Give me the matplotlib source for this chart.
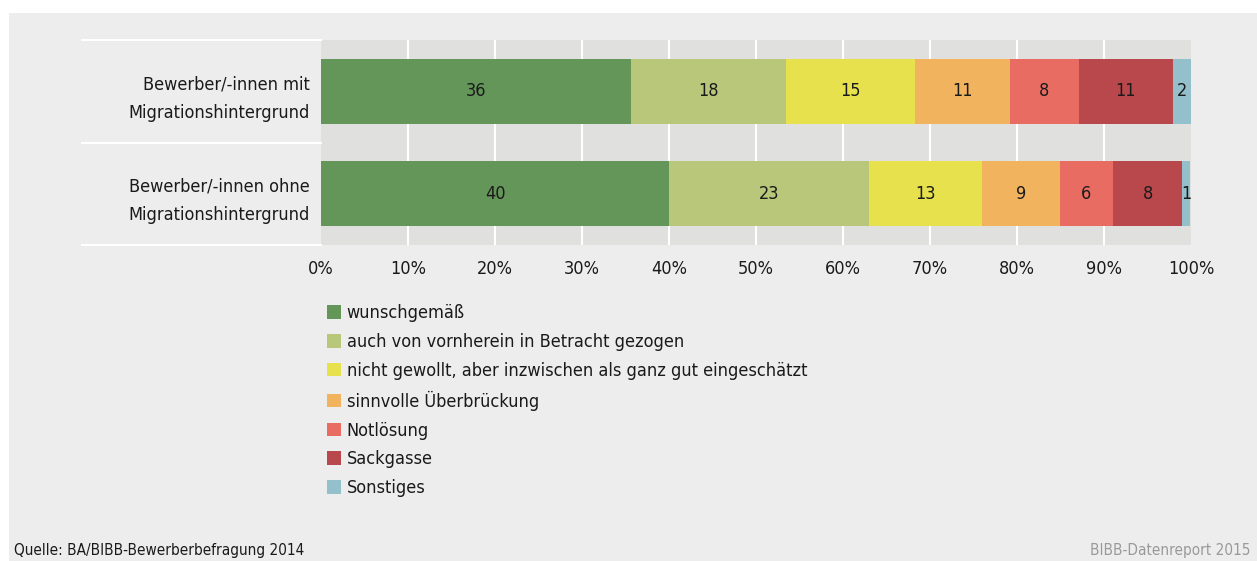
import matplotlib.pyplot as plt
from matplotlib.patches import Rectangle, Patch
from matplotlib.lines import Line2D

plt.rcParams['font.family'] = 'DejaVu Sans'
plt.rcParams['font.stretch'] = 'condensed'

groups = ['Bewerber/-innen mit\nMigrationshintergrund',
          'Bewerber/-innen ohne\nMigrationshintergrund']
categories = ['wunschgemäß', 'auch von vornherein in Betracht gezogen',
              'nicht gewollt, aber inzwischen als ganz gut eingeschätzt',
              'sinnvolle Überbrückung', 'Notlösung', 'Sackgasse', 'Sonstiges']
mit = [35.6, 17.8, 14.9, 10.9, 7.9, 10.8, 2.1]
ohne = [40.0, 23.0, 13.0, 8.9, 6.1, 8.0, 0.9]
mit_labels = [36, 18, 15, 11, 8, 11, 2]
ohne_labels = [40, 23, 13, 9, 6, 8, 1]
colors = ['#649659', '#b8c77a', '#e6e14c', '#f2b35e', '#e86c61', '#b9484c', '#93c0cb']
ticks = [0, 10, 20, 30, 40, 50, 60, 70, 80, 90, 100]

W, H = 1257, 561
fig = plt.figure(figsize=(W / 100, H / 100), dpi=100, facecolor='white')
fig.patches.append(Rectangle((9 / W, 0), 1 - 9 / W, 1 - 13 / H, transform=fig.transFigure,
                             facecolor='#ededed', edgecolor='none', zorder=-5))

ax = fig.add_axes([321 / W, 1 - 245 / H, 870 / W, 205 / H])
ax.set_facecolor('#e0e0df')
for s in ax.spines.values():
    s.set_visible(False)

values = [mit, ohne]
labels = [mit_labels, ohne_labels]
for i in range(len(groups)):
    left = 0
    for j, v in enumerate(values[i]):
        ax.barh(i, v, left=left, height=0.635, color=colors[j], zorder=3)
        ax.text(left + v / 2, i, str(labels[i][j]), ha='center', va='center',
                fontsize=13, color='#1a1a1a', zorder=4)
        left += v

ax.set_xlim(0, 100)
ax.set_ylim(1.5, -0.5)
ax.set_xticks(ticks)
ax.set_xticklabels([f'{t}%' for t in ticks], fontsize=13, color='#1a1a1a')
ax.set_yticks(range(len(groups)))
ax.set_yticklabels(groups, fontsize=13, color='#1a1a1a', linespacing=1.74)
ax.tick_params(axis='y', length=0, pad=8)
ax.tick_params(axis='x', length=0, pad=11)
# inner gridlines only, no line at 0% and 100%
for t in ticks[1:-1]:
    ax.axvline(t, color='white', linewidth=1.5, zorder=1)

for y in [-0.5, 0.5, 1.5]:
    ax.add_line(Line2D([-239 / 870, 0], [y, y], transform=ax.get_yaxis_transform(),
                       color='white', linewidth=1.5, clip_on=False))

handles = [Patch(facecolor=c, edgecolor='none') for c in colors]
fig.legend(handles, categories, loc='upper left', bbox_to_anchor=(311 / W, 1 - 288 / H),
           frameon=False, fontsize=13, handlelength=0.78, handleheight=0.78,
           labelspacing=0.6, handletextpad=0.3, labelcolor='#1a1a1a')

fig.text(14 / W, 1 - 550 / H, 'Quelle: BA/BIBB-Bewerberbefragung 2014', fontsize=11,
         color='#1a1a1a', va='center', ha='left')
fig.text(1250 / W, 1 - 550 / H, 'BIBB-Datenreport 2015', fontsize=11,
         color='#999999', va='center', ha='right')

fig.savefig('out.png', dpi=100, facecolor='white')
